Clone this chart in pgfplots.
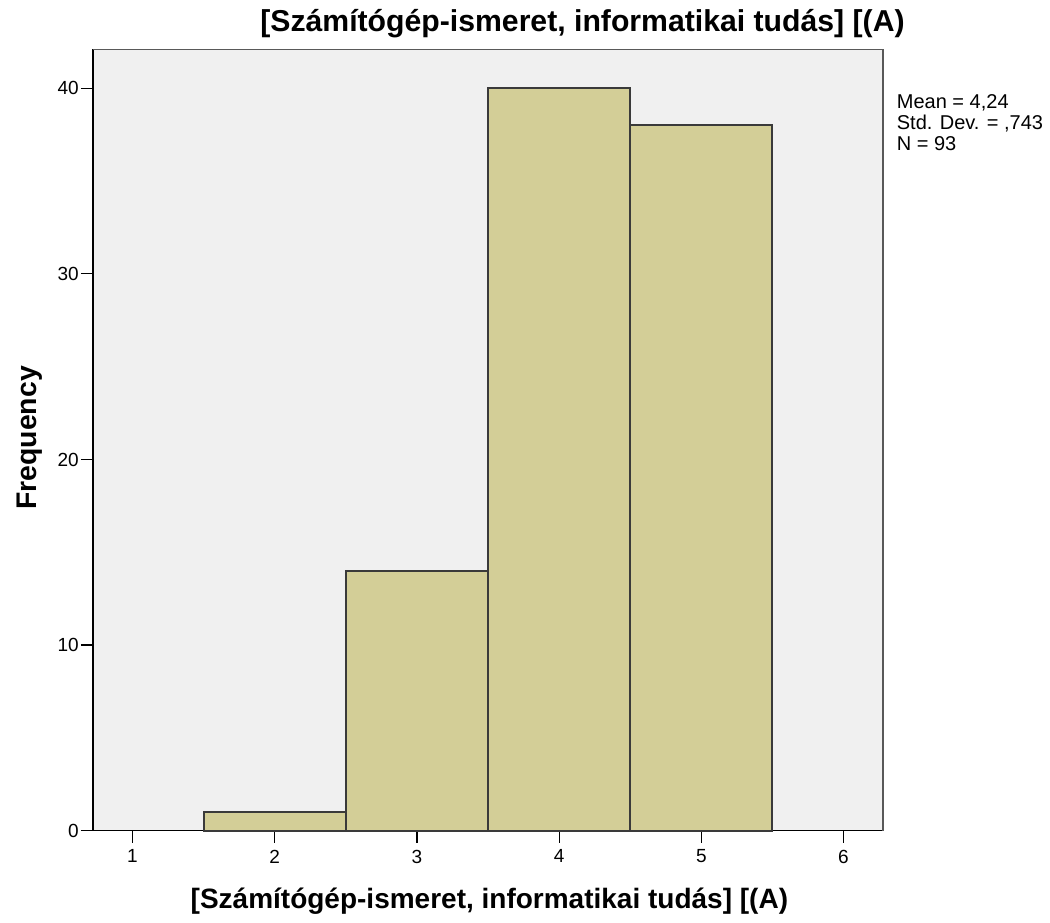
\documentclass[border=0pt]{standalone}
\usepackage{pgfplots}
\pgfplotsset{compat=1.18}
\usepackage{fontspec}
\setmainfont{Liberation Sans}
\definecolor{bgc}{HTML}{F0F0F0}
\definecolor{barc}{HTML}{D3CE97}
\definecolor{edgec}{HTML}{3A3A3A}
\begin{document}
\begin{tikzpicture}[x=1pt,y=1pt]
\useasboundingbox (0,0) rectangle (1050,923);
\begin{axis}[
  at={(93pt,92.3pt)}, anchor=south west,
  scale only axis, width=790pt, height=781.4pt,
  xmin=0.722, xmax=6.278, ymin=0, ymax=42.1,
  axis x line*=bottom, axis y line*=left,
  axis line style={black, line width=1.2pt, -},
  axis background/.style={fill=bgc},
  xtick={1,2,3,4,5,6}, ytick={0,10,20,30,40},
  tick align=outside, major tick length=12pt,
  tick style={black, line width=1.2pt},
  /pgf/number format/assume math mode=true,
  tick label style={font=\fontsize{19}{21}\selectfont},
  xticklabel style={inner sep=7pt},
  yticklabel style={inner sep=2pt},
  clip=false,
]
\addplot[ybar, bar width=1, bar shift=0pt, fill=barc, draw=edgec, line width=1.8pt]
  coordinates {(2,1) (3,14) (4,40) (5,38)};
\draw[gray!70!black, line width=1.2pt] (rel axis cs:0,1) -- (rel axis cs:1,1) -- (rel axis cs:1,0);
\end{axis}
\node[anchor=base, font=\bfseries\fontsize{30.2}{34}\selectfont] at (582.5,891) {[Számítógép-ismeret, informatikai tudás] [(A)};
\node[anchor=base, font=\bfseries\fontsize{28}{32}\selectfont] at (489.4,14.5) {[Számítógép-ismeret, informatikai tudás] [(A)};
\node[anchor=base, rotate=90, font=\bfseries\fontsize{28.4}{32}\selectfont] at (36.7,485) {Frequency};
\node[anchor=base west, inner sep=0pt, font=\fontsize{20}{22}\selectfont] at (896.7,814.4) {Mean = 4,24};
\node[anchor=base west, inner sep=0pt, font=\fontsize{20}{22}\selectfont] at (896.7,793.4) {Std. Dev. = ,743};
\node[anchor=base west, inner sep=0pt, font=\fontsize{20}{22}\selectfont] at (896.7,772.4) {N = 93};
\end{tikzpicture}
\end{document}
